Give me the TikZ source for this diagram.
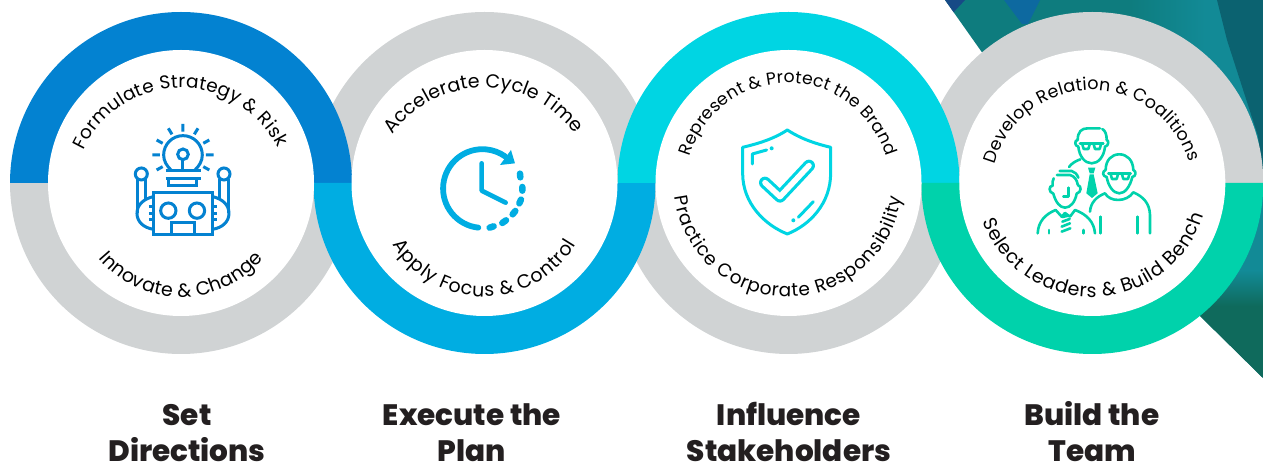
\documentclass[tikz,border=0pt]{standalone}
\usepackage{fontspec}
\setmainfont{Poppins}
\newfontfamily\headfam{Poppins ExtraBold}
\usetikzlibrary{decorations.text}
\definecolor{cgrey}{HTML}{D0D3D4}
\definecolor{cblue}{HTML}{0382D1}
\definecolor{csky}{HTML}{00ADE2}
\definecolor{ccyan}{HTML}{00D5E3}
\definecolor{cgreen}{HTML}{00D2AB}
\definecolor{cink}{HTML}{231F20}
\definecolor{bgbase}{HTML}{0E7C7E}
\definecolor{bgdark}{HTML}{0B6270}
\definecolor{bglight}{HTML}{128A96}
\definecolor{bgblue}{HTML}{0D69A0}
\definecolor{bgnavy}{HTML}{174A86}
\definecolor{bggreen}{HTML}{0F6A5C}
\newcommand{\headfont}{\headfam\fontsize{29.5}{36}\selectfont}
\newcommand{\headstrut}{\rule{0pt}{24pt}}
% half ring: centre x, colour, start angle, end angle
\newcommand{\halfring}[4]{\fill[#2] ([shift={(#3:171)}]#1,283) arc[start angle=#3,end angle=#4,radius=171] -- ([shift={(#4:132)}]#1,283) arc[start angle=#4,end angle=#3,radius=132] -- cycle;}
% text on arc: font size, cx, cy(from top), r, a1, a2, text
\newcommand{\arctext}[7]{\path[decorate,decoration={text along path,text align={fit to path},text={|\fontsize{#1}{20}\selectfont\color{black}|#7}}] ([shift={(#5:#4)}]#2,{466-#3}) arc[start angle=#5,end angle=#6,radius=#4];}
\tikzset{
  head/.style={font=\headfont,text=cink,align=center,inner sep=0pt,anchor=north},
  iconline/.style={line width=3pt,line cap=butt,line join=miter},
  teamline/.style={line width=2.6pt,cgreen,line cap=round,line join=round},
}
\begin{document}
\begin{tikzpicture}[x=1pt,y=1pt]
\useasboundingbox (0,0) rectangle (1263,466);
\fill[white] (0,0) rectangle (1263,466);
% background photo wedge
\begin{scope}
\clip (945,466) -- (981,415) -- (1200,150) -- (1263,88) -- (1263,466) -- cycle;
\fill[bgbase] (940,80) rectangle (1263,466);
\fill[bgnavy] (940,466) -- (965,466) -- (952,452) -- cycle;
\fill[bgblue] (1004,466) -- (1040,466) -- (1028,442) -- (1022,442) -- cycle;
\shade[left color=bgbase,right color=bglight] (1130,283) rectangle (1205,466);
\fill[bglight] (1205,283) rectangle (1263,466);
\fill[bgdark] (1217,466) -- (1263,466) -- (1263,283) -- (1258,330) -- (1227,426) -- cycle;
\fill[bglight] (1130,190) rectangle (1263,283);
\shade[top color=bglight,bottom color=bggreen] (1130,160) rectangle (1263,195);
\fill[bggreen] (1130,80) rectangle (1263,160);
\end{scope}
% rings
\halfring{181}{cgrey}{180}{360}
\halfring{484.5}{cgrey}{0}{180}
\halfring{788.5}{cgrey}{180}{360}
\halfring{1092.3}{cgrey}{0}{180}
\halfring{181}{cblue}{0}{180}
\halfring{484.5}{csky}{180}{360}
\halfring{788.5}{ccyan}{0}{180}
\halfring{1092.3}{cgreen}{180}{360}
\foreach \cx in {181,484.5,788.5,1092.3} \fill[white] (\cx,283) circle (133);
% curved labels
\arctext{18.5}{181}{196}{108}{155}{26.6}{Formulate Strategy {\&} Risk}
\arctext{19}{181}{189}{108}{220}{320}{Innovate {\&} Change}
\arctext{19}{484}{199.6}{112}{144.6}{36.6}{Accelerate Cycle Time}
\arctext{19}{484}{189.6}{107}{211}{329.3}{Apply Focus {\&} Control}
\arctext{17.2}{788}{185}{102}{164}{16.4}{Represent {\&} Protect the Brand}
\arctext{18.5}{788}{183}{114}{187}{353}{Practice Corporate Responsibility}
\arctext{17.5}{1092}{191}{101}{164.6}{16.4}{Develop Relation {\&} Coalitions}
\arctext{19}{1092}{180}{117}{201}{342.4}{Select Leaders {\&} Build Bench}
% headings
\node[head] (h1) at (187,65) {\headstrut Set\\Directions};
\node[head] (h2) at (472,65) {\headstrut Execute the\\Plan};
\node[head] (h3) at (789,65) {\headstrut Influence\\Stakeholders};
\node[head] (h4) at (1092,65) {\headstrut Build the\\Team};
% robot icon
\begin{scope}[shift={(0,466)},xscale=0.3333,yscale=-0.3333,cblue,iconline]
\draw (549,372)--(549,395) (505,385)--(516,403) (594,385)--(583,403) (470,420)--(488,430) (628,420)--(610,430)
      (457,465)--(480,465) (618,465)--(641,465) (470,510)--(488,500) (628,510)--(610,500);
\draw (515,512) .. controls (500,498) and (491,483) .. (491,465) .. controls (491,433) and (517,407) .. (549,407) .. controls (581,407) and (607,433) .. (607,465) .. controls (607,483) and (598,498) .. (583,512);
\draw (549,463) circle (16);
\draw (549,480)--(549,512);
\draw (497,512)--(602,512) (497,535)--(602,535);
\draw (507,535) rectangle (590,558);
\draw (460,577) rectangle (638,705);
\draw (505,632) circle (23) (591,632) circle (23);
\draw (515,703)--(515,668)--(583,668)--(583,703);
\draw (460,590) .. controls (430,597) and (411,615) .. (411,640) .. controls (411,665) and (430,683) .. (460,688);
\draw (638,590) .. controls (668,597) and (687,615) .. (687,640) .. controls (687,665) and (668,683) .. (638,688);
\draw (447,620)--(460,620) (447,640)--(460,640) (447,660)--(460,660) (638,620)--(651,620) (638,640)--(651,640) (638,660)--(651,660);
\draw (424,522) circle (18) (672,522) circle (18);
\draw (412,538)--(412,640) (437,538)--(437,597) (660,538)--(660,597) (685,538)--(685,640);
\end{scope}
% clock icon
\begin{scope}[shift={(310,466)},xscale=0.3333,yscale=-0.3333,csky,line cap=round,line join=round]
\draw[line width=5.8pt] (505,683) arc[start angle=96,end angle=305,radius=118];
\fill (570,495) -- (615,490) -- (603,450) -- cycle;
\draw[line width=4.6pt] (515,490) -- (515,572) -- (587,608);
\draw[line width=6.5pt] (630,521)--(631,532) (637,561)--(637,572) (633,599)--(628,610) (616,633)--(608,643) (588,661)--(577,669) (551,679)--(539,683);
\end{scope}
% shield icon
\begin{scope}[shift={(610,466)},xscale=0.3333,yscale=-0.3333,ccyan,line cap=round,line join=round]
\draw[line width=3pt] (532,390) .. controls (575,418) and (620,432) .. (662,442) -- (662,520) .. controls (662,610) and (600,675) .. (532,702) .. controls (464,675) and (398,610) .. (398,520) -- (398,442) .. controls (440,432) and (490,418) .. (532,390) -- cycle;
\draw[line width=3pt] (427,492) -- (427,462) -- (470,450) (565,652) -- (610,605);
\fill (485,445) circle (6) (550,661) circle (6);
\draw[line width=12pt] (465,548) -- (510,590) -- (597,497);
\draw[line width=5.6pt,white] (465,548) -- (510,590) -- (597,497);
\end{scope}
% team icon
\begin{scope}[shift={(1025,351)},xscale=0.3333,yscale=-0.3333,teamline]
% back man
\draw (158,75) .. controls (158,50) and (170,40) .. (188,40) -- (225,40);
\draw (232,42) .. controls (242,48) and (245,60) .. (245,75);
\draw (158,75) .. controls (148,75) and (148,93) .. (160,95) .. controls (163,125) and (180,145) .. (200,145) .. controls (220,145) and (237,125) .. (240,95) .. controls (252,93) and (252,75) .. (245,75);
\draw (165,85) -- (235,85);
\draw (172,88) -- (176,102) -- (190,102) -- (194,88) (206,88) -- (210,102) -- (224,102) -- (228,88);
\draw (132,156) .. controls (140,145) and (152,138) .. (166,133);
\fill (189,158) -- (211,158) -- (206,175) -- (194,175) -- cycle;
\fill (194,178) -- (206,178) -- (218,235) -- (201,249) -- (184,235) -- cycle;
% right man
\draw (242,165) .. controls (242,135) and (260,118) .. (283,118) .. controls (306,118) and (324,135) .. (325,165) .. controls (335,168) and (333,185) .. (322,186) .. controls (315,215) and (300,235) .. (283,235) .. controls (266,235) and (250,215) .. (245,186) .. controls (232,185) and (231,168) .. (242,165);
\draw (250,175) -- (317,175);
\draw (257,178) -- (261,192) -- (275,192) -- (279,178) (291,178) -- (295,192) -- (309,192) -- (313,178);
\draw (195,290) .. controls (197,262) and (215,245) .. (240,235) .. controls (255,262) and (305,262) .. (325,232) .. controls (355,245) and (374,265) .. (375,300) -- (375,355);
\draw (226,305) -- (226,355) (338,305) -- (338,355);
% front man
\draw (104,168) -- (140,168) .. controls (150,170) and (156,178) .. (160,188);
\draw (96,180) -- (135,180) .. controls (148,183) and (156,195) .. (158,208);
\draw (86,190) .. controls (82,197) and (82,205) .. (83,212);
\draw (83,212) .. controls (71,212) and (70,232) .. (85,236) .. controls (92,262) and (105,278) .. (120,278) .. controls (136,278) and (150,262) .. (155,236) .. controls (170,232) and (170,212) .. (158,210);
\draw (130,218) -- (130,245) -- (115,245);
\draw (38,355) .. controls (40,320) and (60,298) .. (92,285) -- (110,305) -- (120,294) -- (135,305) -- (150,285) .. controls (185,298) and (207,320) .. (210,355);
\draw (72,345) -- (72,355) (175,345) -- (175,355);
\draw (112,306) -- (130,302) (112,320) -- (134,312) (110,335) -- (135,325) (110,350) -- (136,340);
\end{scope}
\end{tikzpicture}
\end{document}
